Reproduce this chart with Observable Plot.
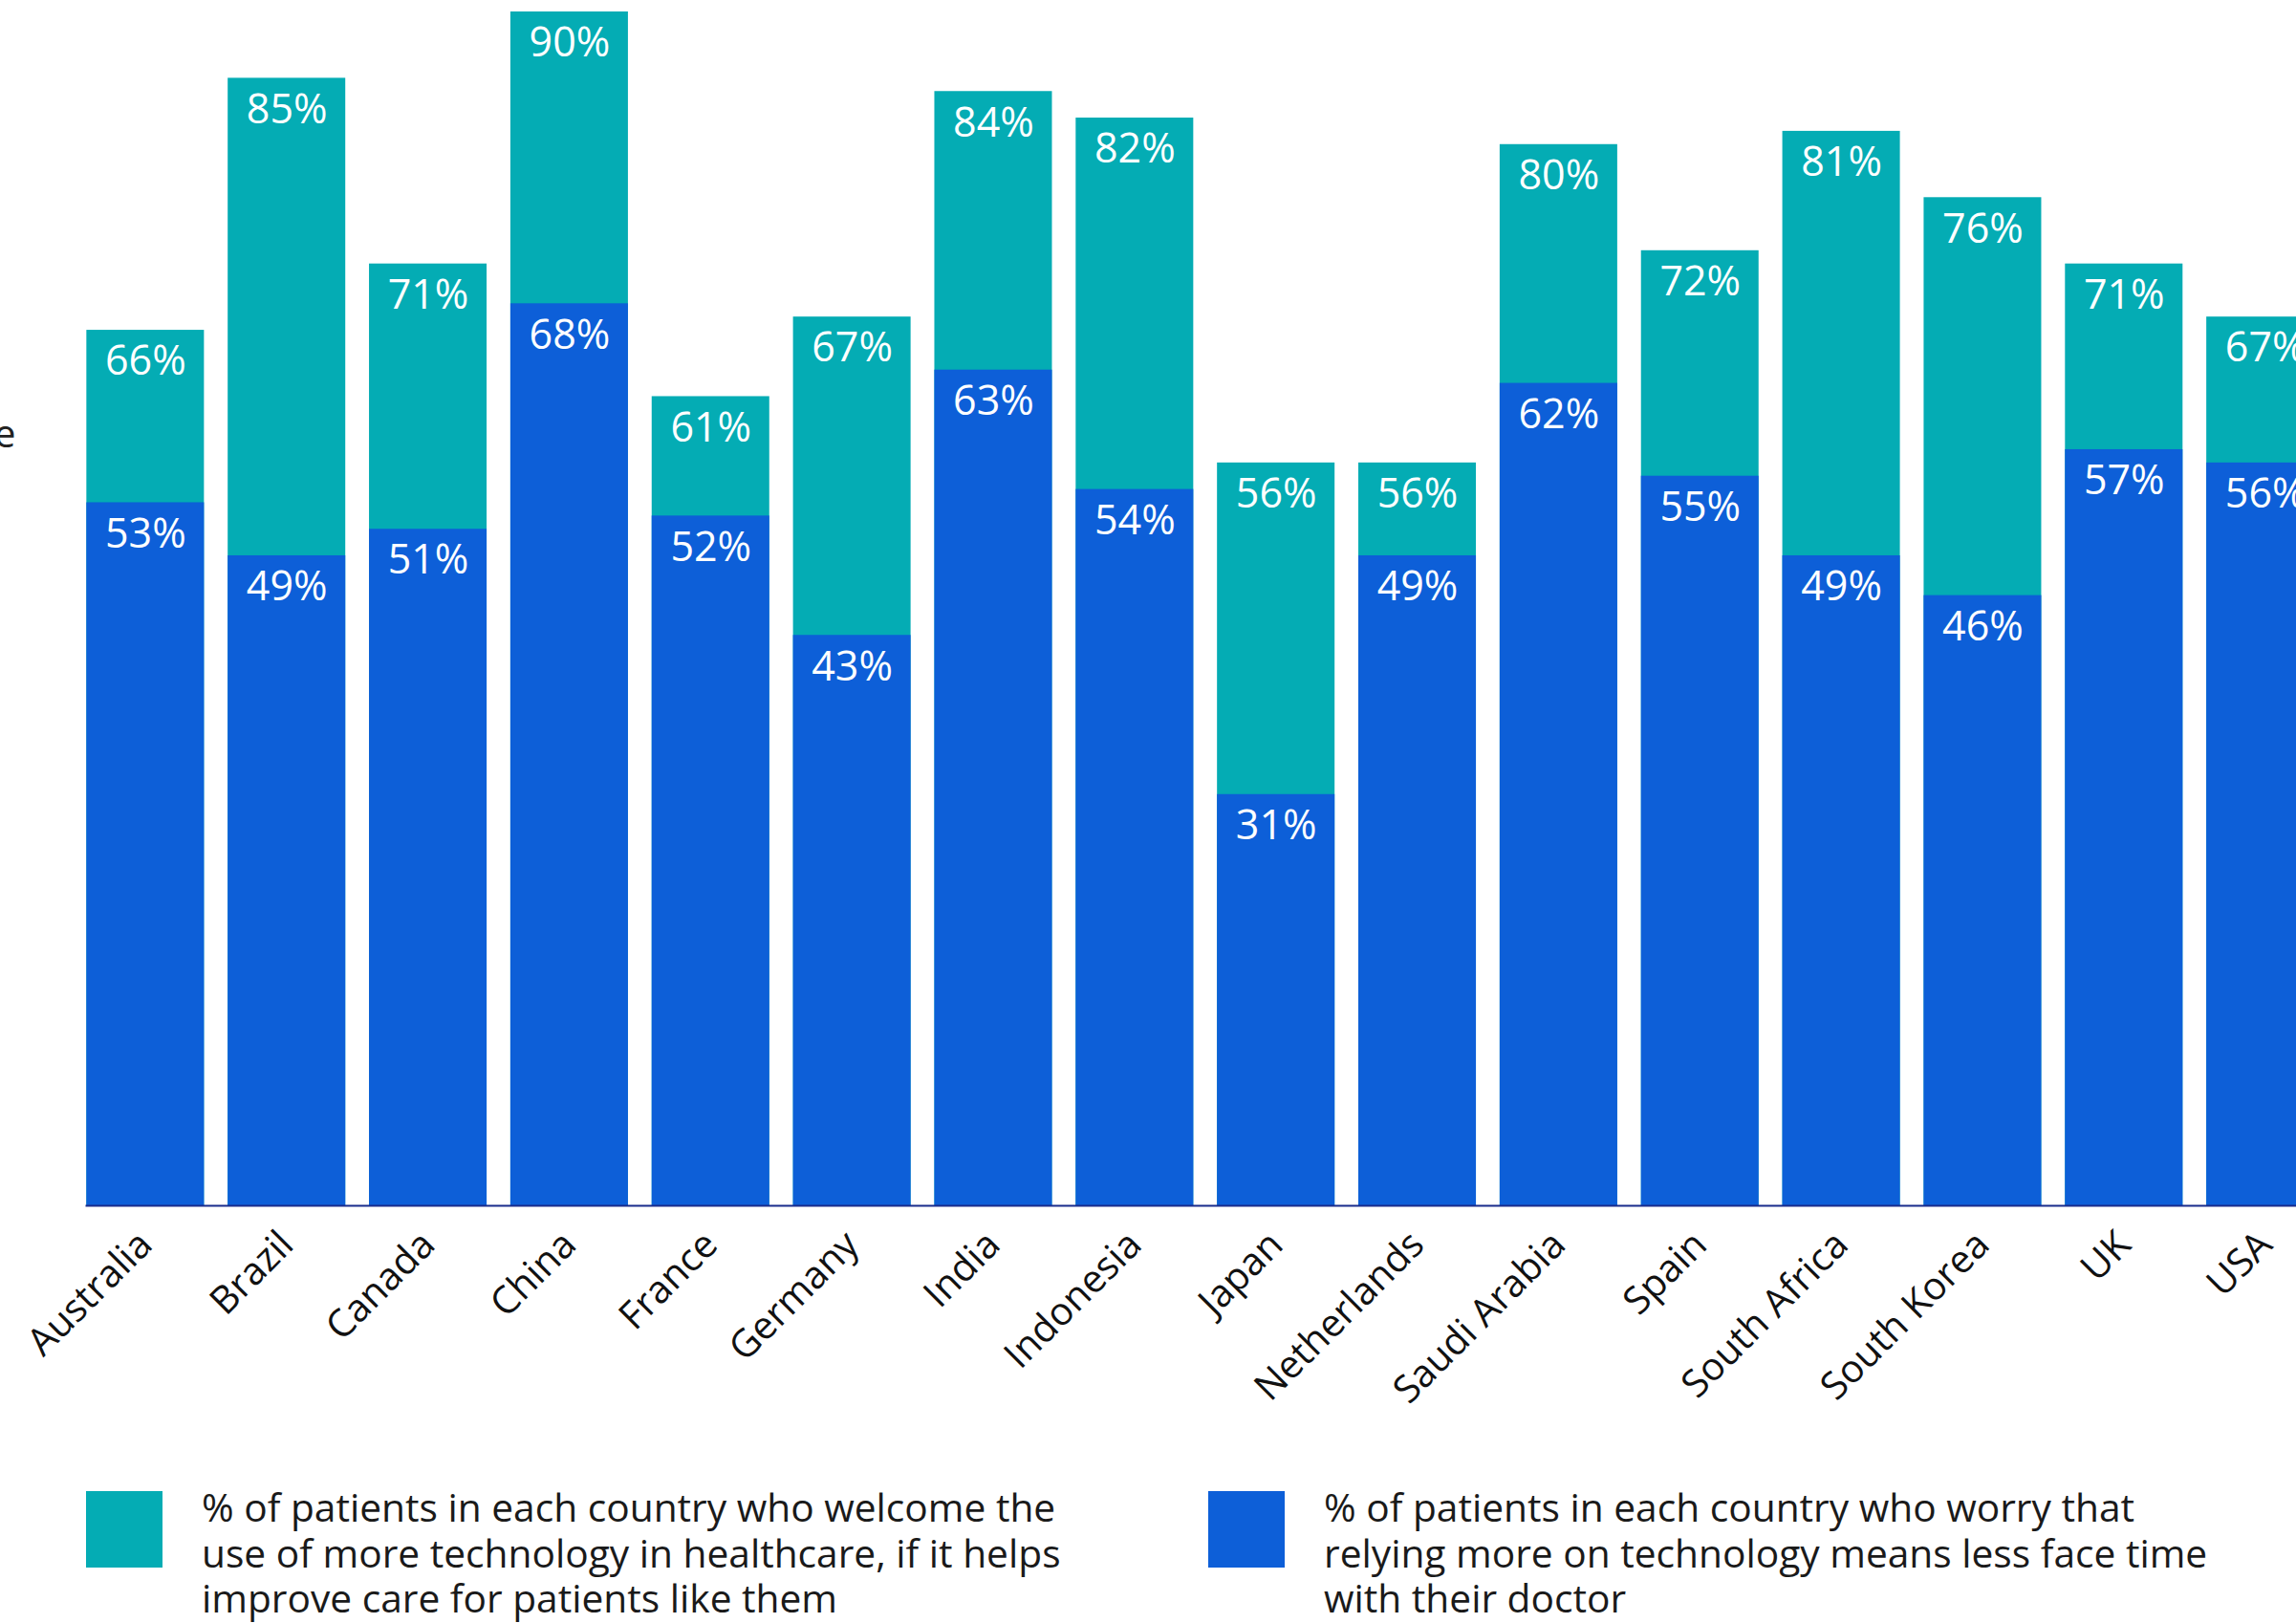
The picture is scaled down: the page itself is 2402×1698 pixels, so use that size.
<!DOCTYPE html>
<html>
<head>
<meta charset="utf-8">
<script src="https://cdn.jsdelivr.net/npm/d3@7"></script>
<script src="https://cdn.jsdelivr.net/npm/@observablehq/plot@0.6"></script>
<style>
  html, body { margin: 0; padding: 0; background: #fff; overflow: hidden; width: 2402px; height: 1698px; }
  #wrap { position: relative; width: 2402px; height: 1698px; font-family: "Open Sans", sans-serif; }
  #chart svg { overflow: visible; }
  #stub { position: absolute; left: -6px; top: 425px; font-size: 40px; color: #222; }
  .legend { position: absolute; top: 1560px; display: flex; align-items: flex-start; }
  .sw { width: 80px; height: 80px; flex: none; }
  .lt { margin-left: 41px; font-size: 40.7px; line-height: 47.5px; color: #1a1a1a; margin-top: -7px; white-space: nowrap; }
</style>
</head>
<body>
<div id="wrap">
  <div id="chart"></div>
  <div id="stub">e</div>
  <div class="legend" style="left:90px"><div class="sw" style="background:#04acb4"></div><div class="lt">% of patients in each country who welcome the<br>use of more technology in healthcare, if it helps<br>improve care for patients like them</div></div>
  <div class="legend" style="left:1264px"><div class="sw" style="background:#0d5fd8"></div><div class="lt">% of patients in each country who worry that<br>relying more on technology means less face time<br>with their doctor</div></div>
</div>
<script>
const countries = ["Australia","Brazil","Canada","China","France","Germany","India","Indonesia","Japan","Netherlands","Saudi Arabia","Spain","South Africa","South Korea","UK","USA"];
const welcome = [66,85,71,90,61,67,84,82,56,56,80,72,81,76,71,67];
const worry   = [53,49,51,68,52,43,63,54,31,49,62,55,49,46,57,56];

const welcomeColor = "#04acb4";
const worryColor = "#0d5fd8";

const rows = countries.map((c, i) => ({country: c, welcome: welcome[i], worry: worry[i]}));

const chart = Plot.plot({
  width: 2402,
  height: 1520,
  marginTop: 12,
  marginBottom: 259,
  marginLeft: 65.5,
  marginRight: -54,
  style: {fontFamily: "Open Sans, sans-serif", background: "transparent"},
  x: {domain: countries, padding: 0.168, round: false, label: null},
  y: {domain: [0, 90], axis: null},
  marks: [
    Plot.barY(rows, {x: "country", y: "welcome", fill: welcomeColor}),
    Plot.barY(rows, {x: "country", y: "worry", fill: worryColor}),
    Plot.ruleY([0], {stroke: "#1a2d8c", strokeWidth: 1.8, insetLeft: 24}),
    Plot.text(rows, {x: "country", y: "welcome", text: d => d.welcome + "%", fill: "white", fontSize: 43, dy: 33, lineAnchor: "middle"}),
    Plot.text(rows, {x: "country", y: "worry", text: d => d.worry + "%", fill: "white", fontSize: 43, dy: 33, lineAnchor: "middle"}),
    Plot.axisX({tickSize: 0, tickPadding: 34, tickRotate: -45, fontSize: 40, fill: "#111", label: null})
  ]
});
document.getElementById("chart").appendChild(chart);
</script>
</body>
</html>
